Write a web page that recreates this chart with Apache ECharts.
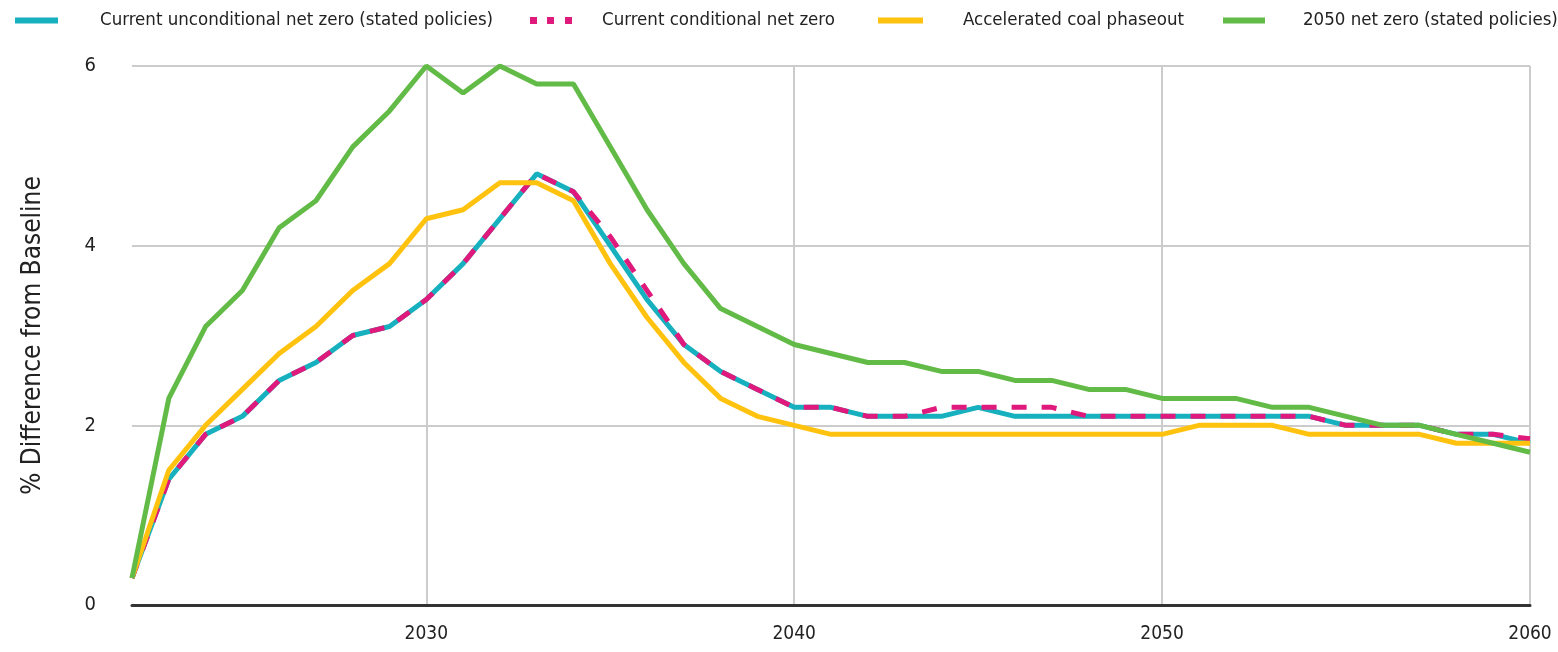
<!DOCTYPE html>
<html>
<head>
<meta charset="utf-8">
<script src="https://cdn.jsdelivr.net/npm/echarts@6/dist/echarts.min.js"></script>
<style>
html,body{margin:0;padding:0;background:#fff;}
#chart{width:1558px;height:652px;}
</style>
</head>
<body>
<div id="chart"></div>
<script>
const years = [];
for (let y = 2022; y <= 2060; y++) years.push(String(y));

const seriesNames = [
  'Current unconditional net zero (stated policies)',
  'Current conditional net zero',
  'Accelerated coal phaseout',
  '2050 net zero (stated policies)'
];

const unconditional = [
  0.3,1.4,1.9,2.1,2.5,2.7,3.0,3.1,3.4,
  3.8,4.3,4.8,4.6,4.0,3.4,2.9,2.6,2.4,2.2,
  2.2,2.1,2.1,2.1,2.2,2.1,2.1,2.1,2.1,2.1,
  2.1,2.1,2.1,2.1,2.0,2.0,2.0,1.9,1.9,1.8
];
const conditional = [
  0.3,1.4,1.9,2.1,2.5,2.7,3.0,3.1,3.4,
  3.8,4.3,4.8,4.6,4.1,3.5,2.9,2.6,2.4,2.2,
  2.2,2.1,2.1,2.2,2.2,2.2,2.2,2.1,2.1,2.1,
  2.1,2.1,2.1,2.1,2.0,2.0,2.0,1.9,1.9,1.85
];
const coalPhaseout = [
  0.3,1.5,2.0,2.4,2.8,3.1,3.5,3.8,4.3,
  4.4,4.7,4.7,4.5,3.8,3.2,2.7,2.3,2.1,2.0,
  1.9,1.9,1.9,1.9,1.9,1.9,1.9,1.9,1.9,1.9,
  2.0,2.0,2.0,1.9,1.9,1.9,1.9,1.8,1.8,1.8
];
const netZero2050 = [
  0.3,2.3,3.1,3.5,4.2,4.5,5.1,5.5,6.0,
  5.7,6.0,5.8,5.8,5.1,4.4,3.8,3.3,3.1,2.9,
  2.8,2.7,2.7,2.6,2.6,2.5,2.5,2.4,2.4,2.3,
  2.3,2.3,2.2,2.2,2.1,2.0,2.0,1.9,1.8,1.7
];

const colors = ['#17B0BE', '#E0197D', '#FFC20E', '#62BB46'];
const FONT = '"DejaVu Sans Condensed", "Liberation Sans Narrow", "Liberation Sans", sans-serif';

const chart = echarts.init(document.getElementById('chart'), null, {renderer: 'canvas'});

function legendItem(name, left, icon, w, h, pad) {
  return {
    data: [name],
    left: left,
    top: 11,
    padding: 0,
    icon: icon,
    itemWidth: w,
    itemHeight: h,
    selectedMode: false,
    textStyle: {fontFamily: FONT, fontSize: 18.5, color: '#222', padding: [0, 0, 0, pad]}
  };
}

chart.setOption({
  animation: false,
  color: colors,
  legend: [
    legendItem(seriesNames[0], 15, 'rect', 43, 6, 37),
    legendItem(seriesNames[1], 530, 'path://M0,0h7v7h-7z M17,0h7v7h-7z M35,0h7v7h-7z', 42, 7, 25),
    legendItem(seriesNames[2], 878, 'rect', 45, 6, 35),
    legendItem(seriesNames[3], 1223, 'rect', 42, 6, 33)
  ],
  grid: {left: 132, right: 28, top: 66, bottom: 47, containLabel: false},
  xAxis: {
    type: 'category',
    data: years,
    boundaryGap: false,
    axisLine: {show: true, onZero: true, lineStyle: {color: '#333', width: 3}},
    axisTick: {show: false},
    axisLabel: {
      interval: function (i, v) { return Number(v) % 10 === 0; },
      margin: 20,
      fontFamily: FONT, fontSize: 19, color: '#222'
    },
    splitLine: {
      show: true,
      interval: function (i, v) { return Number(v) % 10 === 0; },
      lineStyle: {color: '#cccccc', width: 2}
    }
  },
  yAxis: {
    type: 'value',
    min: 0, max: 6, interval: 2,
    name: '% Difference from Baseline',
    nameLocation: 'middle',
    nameRotate: 90,
    nameGap: 86,
    nameTextStyle: {fontFamily: FONT, fontSize: 26, color: '#222'},
    axisLine: {show: false},
    axisTick: {show: false},
    axisLabel: {margin: 36, fontFamily: FONT, fontSize: 20, color: '#222'},
    splitLine: {show: true, lineStyle: {color: '#cccccc', width: 2}}
  },
  series: [
    {name: seriesNames[0], type: 'line', data: unconditional, showSymbol: false, z: 2,
     lineStyle: {width: 5, color: colors[0]}},
    {name: seriesNames[1], type: 'line', data: conditional, showSymbol: false, z: 3,
     lineStyle: {width: 5, color: colors[1], type: [15, 15], cap: 'butt'}},
    {name: seriesNames[2], type: 'line', data: coalPhaseout, showSymbol: false, z: 4,
     lineStyle: {width: 5, color: colors[2]}},
    {name: seriesNames[3], type: 'line', data: netZero2050, showSymbol: false, z: 5,
     lineStyle: {width: 5, color: colors[3]}}
  ]
});
</script>
</body>
</html>
